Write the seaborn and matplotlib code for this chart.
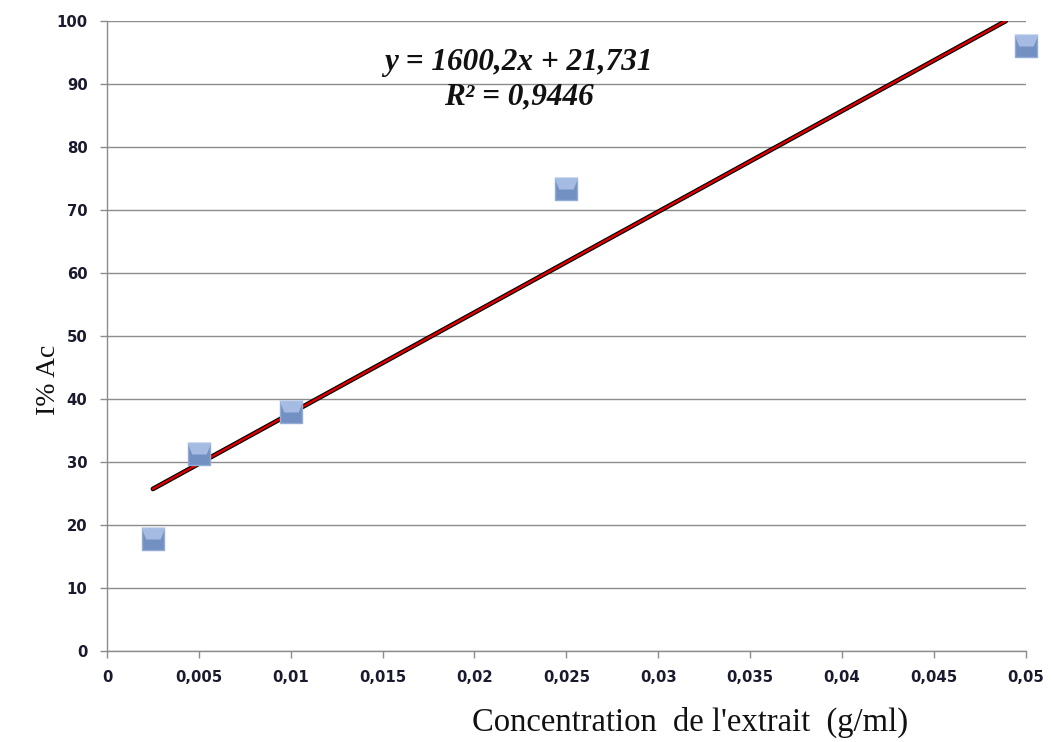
import numpy as np
import pandas as pd
import matplotlib
matplotlib.use("Agg")
import matplotlib.pyplot as plt
import seaborn as sns
from matplotlib.ticker import FuncFormatter, MultipleLocator
from matplotlib.path import Path

# Data
concentration = [0.0025, 0.005, 0.01, 0.025, 0.05]
inhibition = [17.8, 31.3, 37.9, 73.3, 96.1]
slope = 1600.2
intercept = 21.731
r2 = 0.9446

sns.set_theme(style="white")
plt.rcParams['font.family'] = ['DejaVu Sans']

df = pd.DataFrame({"x": concentration, "y": inhibition})

fig = plt.figure(figsize=(10.52, 7.42), dpi=100)
ax = fig.add_axes([0.1017, 0.1226, 0.8733, 0.849])

# trendline (clipped at 100)
x0 = min(concentration)
x1 = (100 - intercept) / slope
xs = np.array([x0, x1])
ys = slope * xs + intercept
ax.plot(xs, ys, color="black", lw=3.4, zorder=3, solid_capstyle="round")
ax.plot(xs, ys, color="#e00000", lw=1.7, zorder=4, solid_capstyle="round")

sns.scatterplot(data=df, x="x", y="y", ax=ax, marker="s", s=250,
                color="#7390c2", edgecolor="#93acd6", linewidth=1.0, zorder=5,
                clip_on=False)
# soft bevel highlight on top of markers
bevel = Path([(-1, 1), (1, 1), (0.6, 0.0), (-0.6, 0.0), (-1, 1)],
             [Path.MOVETO, Path.LINETO, Path.LINETO, Path.LINETO, Path.CLOSEPOLY])
sns.scatterplot(data=df, x="x", y="y", ax=ax, marker=bevel, s=300,
                color="#aec3e8", alpha=0.85, linewidth=0, zorder=6, clip_on=False)

ax.set_xlim(0, 0.05)
ax.set_ylim(0, 100)
ax.xaxis.set_major_locator(MultipleLocator(0.005))
ax.yaxis.set_major_locator(MultipleLocator(10))

def fmt(v, pos):
    s = f"{v:.3f}".rstrip("0").rstrip(".")
    return s.replace(".", ",")

ax.xaxis.set_major_formatter(FuncFormatter(fmt))
ax.yaxis.set_major_formatter(FuncFormatter(lambda v, p: f"{int(round(v))}"))

ax.grid(axis="y", color="#8c8c8c", lw=1.0)
ax.grid(axis="x", visible=False)
ax.set_axisbelow(True)
for s in ["top", "right"]:
    ax.spines[s].set_visible(False)
for s in ["left", "bottom"]:
    ax.spines[s].set_color("#8c8c8c")
    ax.spines[s].set_linewidth(1.0)

ax.tick_params(axis="both", which="major", length=5, width=1, color="#8c8c8c",
               direction="out", bottom=True, left=True, labelsize=10.7,
               labelcolor="#1a1a2e", pad=9)
for lab in ax.get_xticklabels() + ax.get_yticklabels():
    lab.set_fontweight("bold")

serif = ["Liberation Serif", "DejaVu Serif"]
ax.set_xlabel("Concentration  de l'extrait  (g/ml)", fontsize=23.5,
              family=serif, color="#111111")
ax.xaxis.set_label_coords(0.635, -0.088)
ax.set_ylabel("I% Ac", fontsize=20, family=serif, color="#111111")
ax.yaxis.set_label_coords(-0.05, 0.43)

eq = f"y = {slope:.1f}x + {intercept:.3f}".replace(".", ",")
r2t = f"R² = {r2:.4f}".replace(".", ",")
ax.text(0.448, 0.935, eq, transform=ax.transAxes, ha="center", va="center",
        fontsize=22.5, fontweight="bold", fontstyle="italic",
        family=serif, color="#111111")
ax.text(0.448, 0.88, r2t, transform=ax.transAxes, ha="center", va="center",
        fontsize=22.5, fontweight="bold", fontstyle="italic",
        family=serif, color="#111111")

fig.savefig("out.png", dpi=100)
